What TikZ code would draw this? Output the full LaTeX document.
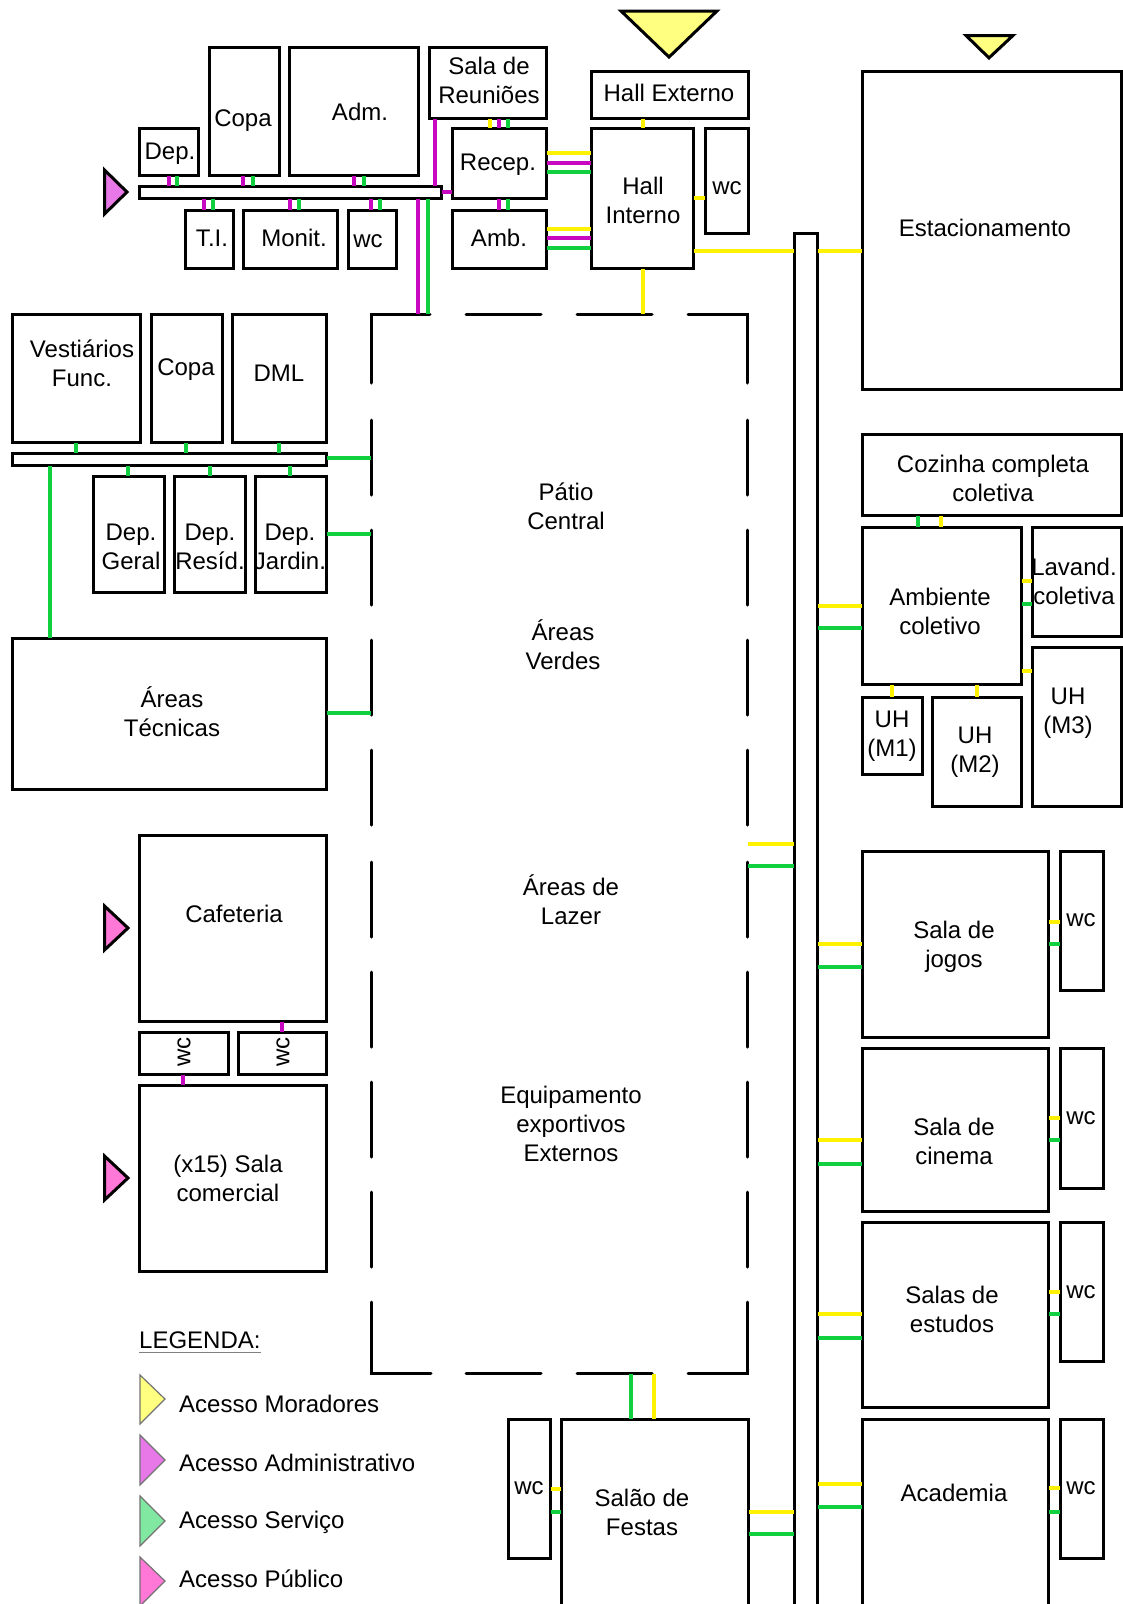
\documentclass[tikz,border=0pt]{standalone}
\usepackage{fontspec}
\setmainfont{Liberation Sans}
\usetikzlibrary{fit}
\definecolor{wireyellow}{HTML}{FFF200}
\definecolor{wiregreen}{HTML}{10D040}
\definecolor{wiremagenta}{HTML}{C808C0}
\definecolor{accmor}{HTML}{FFFF80}
\definecolor{accadm}{HTML}{E878E8}
\definecolor{accser}{HTML}{80E8A0}
\definecolor{accpub}{HTML}{FF78D8}
\tikzset{
  room/.style={draw, line width=3pt, inner sep=0pt, outer sep=0pt},
  lbl/.style={align=center, inner sep=0pt, font=\fontsize{24}{29}\selectfont},
  wire/.style={line width=4pt, shorten >=0.5pt, shorten <=0.5pt},
  wy/.style={wire, wireyellow},
  wg/.style={wire, wiregreen},
  wm/.style={wire, wiremagenta},
  wall/.style={line width=3pt, line cap=round},
  door/.style={line width=3pt, line join=miter},
  keytri/.style={line width=1.2pt, draw=black!55},
}
\begin{document}
\begin{tikzpicture}[x=1pt, y=-1pt]
  \useasboundingbox (0,0) rectangle (1122,1604);
  % Administration block
  \node[room, fit={(139,128) (198,175)}] (dep) {};
  \node[room, fit={(209,47) (279,175)}] (copaa) {};
  \node[room, fit={(289,47) (418,175)}] (adm) {};
  \node[room, fit={(429,47) (546,118)}] (reun) {};
  \node[room, fit={(452,128) (546,198)}] (recep) {};
  \node[room, fit={(452,210) (546,268)}] (amb) {};
  \node[room, fit={(139,186) (441,198)}] (barup) {};
  \node[room, fit={(185,210) (233,268)}] (ti) {};
  \node[room, fit={(243,210) (337,268)}] (monit) {};
  \node[room, fit={(348,210) (396,268)}] (wcadm) {};
  \node[lbl] (tdep) at (170,154) {Dep.};
  \node[lbl] (tcopaa) at (243,121) {Copa};
  \node[lbl] (tadm) at (360,112) {Adm.};
  \node[lbl] (treun) at (489,80) {Sala de\\Reuniões};
  \node[lbl] (trecep) at (498,165) {Recep.};
  \node[lbl] (tamb) at (499,238) {Amb.};
  \node[lbl] (tti) at (212,238) {T.I.};
  \node[lbl] (tmonit) at (294,238) {Monit.};
  \node[lbl] (twcadm) at (368,241) {wc};
  % Halls
  \node[room, fit={(591,71) (748,118)}] (hallext) {};
  \node[room, fit={(591,128) (693,268)}] (hallint) {};
  \node[room, fit={(705,128) (748,233)}] (wchall) {};
  \node[lbl] (thallext) at (669,93) {Hall Externo};
  \node[lbl] (thallint) at (643,200) {Hall\\Interno};
  \node[lbl] (twchall) at (727,188) {wc};
  % Service block
  \node[room, fit={(12,314) (140,442)}] (vest) {};
  \node[room, fit={(151,314) (222,442)}] (copab) {};
  \node[room, fit={(232,314) (326,442)}] (dml) {};
  \node[room, fit={(12,453) (326,465)}] (barlow) {};
  \node[room, fit={(93,476) (164,592)}] (geral) {};
  \node[room, fit={(174,476) (245,592)}] (resid) {};
  \node[room, fit={(255,476) (326,592)}] (jardin) {};
  \node[room, fit={(12,638) (326,789)}] (tecn) {};
  \node[lbl] (tvest) at (82,363) {Vestiários\\Func.};
  \node[lbl] (tcopab) at (186,370) {Copa};
  \node[lbl] (tdml) at (279,373) {DML};
  \node[lbl] (tgeral) at (131,547) {Dep.\\Geral};
  \node[lbl] (tresid) at (210,547) {Dep.\\Resíd.};
  \node[lbl] (tjardin) at (290,547) {Dep.\\Jardin.};
  \node[lbl] (ttecn) at (172,712) {Áreas\\Técnicas};
  % Public block
  \node[room, fit={(139,835) (326,1021)}] (cafe) {};
  \node[room, fit={(139,1032) (228,1074)}] (wcleft) {};
  \node[room, fit={(238,1032) (326,1074)}] (wcright) {};
  \node[room, fit={(139,1085) (326,1271)}] (comerc) {};
  \node[lbl] (tcafe) at (234,914) {Cafeteria};
  \node[lbl, rotate=90] (twcleft) at (184,1052) {wc};
  \node[lbl, rotate=90] (twcright) at (283,1052) {wc};
  \node[lbl] (tcomerc) at (228,1178) {(x15) Sala\\comercial};
  % Courtyard
  \node[inner sep=0pt, outer sep=0pt, fit={(371,314) (747,1373)}] (patio) {};
  \draw[wall] (430,314) -- (371,314) -- (371,383);
  \draw[wall] (688,314) -- (747,314) -- (747,383);
  \draw[wall] (431,1373) -- (371,1373) -- (371,1302);
  \draw[wall] (688,1373) -- (747,1373) -- (747,1302);
  \foreach \xa in {466,577} {
    \draw[wall] (\xa,314) -- ++(75,0);
    \draw[wall] (\xa,1373) -- ++(75,0);
  }
  \foreach \ya in {420,530,640,750,862,972,1082,1192} {
    \draw[wall] (371,\ya) -- ++(0,75);
    \draw[wall] (747,\ya) -- ++(0,75);
  }
  \node[lbl] (tcentral) at (566,506) {Pátio\\Central};
  \node[lbl] (tverdes) at (563,645) {Áreas\\Verdes};
  \node[lbl] (tlazer) at (571,900) {Áreas de\\Lazer};
  \node[lbl] (tequip) at (571,1124) {Equipamento\\exportivos\\Externos};
  % Corridor and right wing
  \node[room, fit={(794,233) (817,1630)}] (corr) {};
  \node[room, fit={(862,71) (1121,389)}] (estac) {};
  \node[room, fit={(862,434) (1121,515)}] (coz) {};
  \node[room, fit={(862,527) (1021,684)}] (ambc) {};
  \node[room, fit={(1032,527) (1121,636)}] (lav) {};
  \node[room, fit={(862,697) (922,774)}] (mone) {};
  \node[room, fit={(932,697) (1021,806)}] (mtwo) {};
  \node[room, fit={(1032,647) (1121,806)}] (mthree) {};
  \node[room, fit={(862,851) (1048,1037)}] (jogos) {};
  \node[room, fit={(1060,851) (1103,990)}] (wcjogos) {};
  \node[room, fit={(862,1048) (1048,1211)}] (cine) {};
  \node[room, fit={(1060,1048) (1103,1188)}] (wccine) {};
  \node[room, fit={(862,1222) (1048,1407)}] (estud) {};
  \node[room, fit={(1060,1222) (1103,1361)}] (wcestud) {};
  \node[room, fit={(862,1419) (1048,1630)}] (acad) {};
  \node[room, fit={(1060,1419) (1103,1558)}] (wcacad) {};
  \node[room, fit={(561,1419) (748,1630)}] (festas) {};
  \node[room, fit={(508,1419) (550,1558)}] (wcfest) {};
  \node[lbl] (testac) at (985,228) {Estacionamento};
  \node[lbl] (tcoz) at (993,478) {Cozinha completa\\coletiva};
  \node[lbl] (tambc) at (940,611) {Ambiente\\coletivo};
  \node[lbl] (tlav) at (1074,581) {Lavand.\\coletiva};
  \node[lbl] (tmone) at (892,736) {UH\\(M1)};
  \node[lbl] (tmtwo) at (975,752) {UH\\(M2)};
  \node[lbl] (tmthree) at (1068,713) {UH\\(M3)};
  \node[lbl] (tjogos) at (954,947) {Sala de\\jogos};
  \node[lbl] (tcine) at (954,1141) {Sala de\\cinema};
  \node[lbl] (testud) at (952,1309) {Salas de\\estudos};
  \node[lbl] (tacad) at (954,1493) {Academia};
  \node[lbl] (tfestas) at (642,1512) {Salão de\\Festas};
  \node[lbl] (twcjogos) at (1081,920) {wc};
  \node[lbl] (twccine) at (1081,1118) {wc};
  \node[lbl] (twcestud) at (1081,1292) {wc};
  \node[lbl] (twcacad) at (1081,1488) {wc};
  \node[lbl] (twcfest) at (529,1488) {wc};
  % Links in the administration block
  \foreach \ra/\rb/\xm/\xg in {dep/barup/169/177, copaa/barup/243/253, adm/barup/354/364,
      barup/ti/204/213, barup/monit/290/299, barup/wcadm/371/380, recep/amb/499/508} {
    \draw[wm] (\ra.south -| \xm,0) -- (\rb.north -| \xm,0);
    \draw[wg] (\ra.south -| \xg,0) -- (\rb.north -| \xg,0);
  }
  \draw[wy] (reun.south -| 490,0) -- (recep.north -| 490,0);
  \draw[wm] (reun.south -| 499,0) -- (recep.north -| 499,0);
  \draw[wg] (reun.south -| 508,0) -- (recep.north -| 508,0);
  \draw[wm] (reun.south -| 435,0) -- (barup.north -| 435,0);
  \draw[wm] (barup.east) -- (recep.west |- barup.east);
  \draw[wm] (barup.south -| 418,0) -- (patio.north -| 418,0);
  \draw[wg] (barup.south -| 428,0) -- (patio.north -| 428,0);
  \draw[wy] (recep.east |- 0,153) -- (hallint.west |- 0,153);
  \draw[wm] (recep.east |- 0,163) -- (hallint.west |- 0,163);
  \draw[wg] (recep.east |- 0,172) -- (hallint.west |- 0,172);
  \draw[wy] (amb.east |- 0,229) -- (hallint.west |- 0,229);
  \draw[wm] (amb.east |- 0,238) -- (hallint.west |- 0,238);
  \draw[wg] (amb.east |- 0,248) -- (hallint.west |- 0,248);
  \draw[wy] (hallext.south -| 643,0) -- (hallint.north -| 643,0);
  \draw[wy] (hallint.east |- 0,198) -- (wchall.west |- 0,198);
  \draw[wy] (hallint.east |- 0,251) -- (corr.west |- 0,251);
  \draw[wy] (corr.east |- 0,251) -- (estac.west |- 0,251);
  \draw[wy] (hallint.south -| 643,0) -- (patio.north -| 643,0);
  % Links in the service block
  \foreach \ra/\xg in {vest/76, copab/186, dml/279} {
    \draw[wg] (\ra.south -| \xg,0) -- (barlow.north -| \xg,0);
  }
  \foreach \rb/\xg in {geral/128, resid/210, jardin/290, tecn/50} {
    \draw[wg] (barlow.south -| \xg,0) -- (\rb.north -| \xg,0);
  }
  \draw[wg] (barlow.east |- 0,458) -- (patio.west |- 0,458);
  \draw[wg] (jardin.east |- 0,534) -- (patio.west |- 0,534);
  \draw[wg] (tecn.east |- 0,713) -- (patio.west |- 0,713);
  \draw[wm] (cafe.south -| 282,0) -- (wcright.north -| 282,0);
  \draw[wm] (wcleft.south -| 183,0) -- (comerc.north -| 183,0);
  % Links in the right wing
  \draw[wy] (patio.east |- 0,844) -- (corr.west |- 0,844);
  \draw[wg] (patio.east |- 0,866) -- (corr.west |- 0,866);
  \draw[wy] (festas.east |- 0,1512) -- (corr.west |- 0,1512);
  \draw[wg] (festas.east |- 0,1534) -- (corr.west |- 0,1534);
  \draw[wg] (patio.south -| 631,0) -- (festas.north -| 631,0);
  \draw[wy] (patio.south -| 654,0) -- (festas.north -| 654,0);
  \draw[wy] (wcfest.east |- 0,1489) -- (festas.west |- 0,1489);
  \draw[wg] (wcfest.east |- 0,1512) -- (festas.west |- 0,1512);
  \foreach \ra/\ya/\yb in {ambc/606/628, jogos/944/967, cine/1140/1164, estud/1314/1338, acad/1484/1507} {
    \draw[wy] (corr.east |- 0,\ya) -- (\ra.west |- 0,\ya);
    \draw[wg] (corr.east |- 0,\yb) -- (\ra.west |- 0,\yb);
  }
  \foreach \ra/\rb/\ya/\yb in {jogos/wcjogos/922/944, cine/wccine/1118/1140,
      estud/wcestud/1292/1314, acad/wcacad/1488/1512, ambc/lav/581/604} {
    \draw[wy] (\ra.east |- 0,\ya) -- (\rb.west |- 0,\ya);
    \draw[wg] (\ra.east |- 0,\yb) -- (\rb.west |- 0,\yb);
  }
  \draw[wy] (ambc.east |- 0,671) -- (mthree.west |- 0,671);
  \draw[wy] (ambc.south -| 892,0) -- (mone.north -| 892,0);
  \draw[wy] (ambc.south -| 977,0) -- (mtwo.north -| 977,0);
  \draw[wg] (coz.south -| 918,0) -- (ambc.north -| 918,0);
  \draw[wy] (coz.south -| 941,0) -- (ambc.north -| 941,0);
  % Entrances
  \filldraw[fill=accmor, door] (621,11) -- (717,11) -- (669,57) -- cycle;
  \filldraw[fill=accmor, door] (966,35.5) -- (1013,35.5) -- (989,58) -- cycle;
  \filldraw[fill=accadm, door] (104.5,170) -- (127,192) -- (104.5,214) -- cycle;
  \filldraw[fill=accpub, door] (104.5,906) -- (128,928) -- (104.5,950) -- cycle;
  \filldraw[fill=accpub, door] (104.5,1156) -- (128,1178) -- (104.5,1200) -- cycle;
  % Legend
  \node[lbl, anchor=west] (tlegenda) at (139,1340) {LEGENDA:};
  \draw[line width=1pt, black!50] ([yshift=-4pt]tlegenda.south west) -- ([yshift=-4pt]tlegenda.south east);
  \filldraw[fill=accmor, keytri] (140,1375) -- (165,1399) -- (140,1424) -- cycle;
  \filldraw[fill=accadm, keytri] (140,1435) -- (165,1460) -- (140,1485) -- cycle;
  \filldraw[fill=accser, keytri] (140,1496) -- (165,1521) -- (140,1546) -- cycle;
  \filldraw[fill=accpub, keytri] (140,1557) -- (165,1581) -- (140,1606) -- cycle;
  \node[lbl, anchor=west] (tmor) at (179,1404) {Acesso Moradores};
  \node[lbl, anchor=west] (tadmk) at (179,1463) {Acesso Administrativo};
  \node[lbl, anchor=west] (tser) at (179,1522) {Acesso Serviço};
  \node[lbl, anchor=west] (tpub) at (179,1579) {Acesso Público};
\end{tikzpicture}
\end{document}
